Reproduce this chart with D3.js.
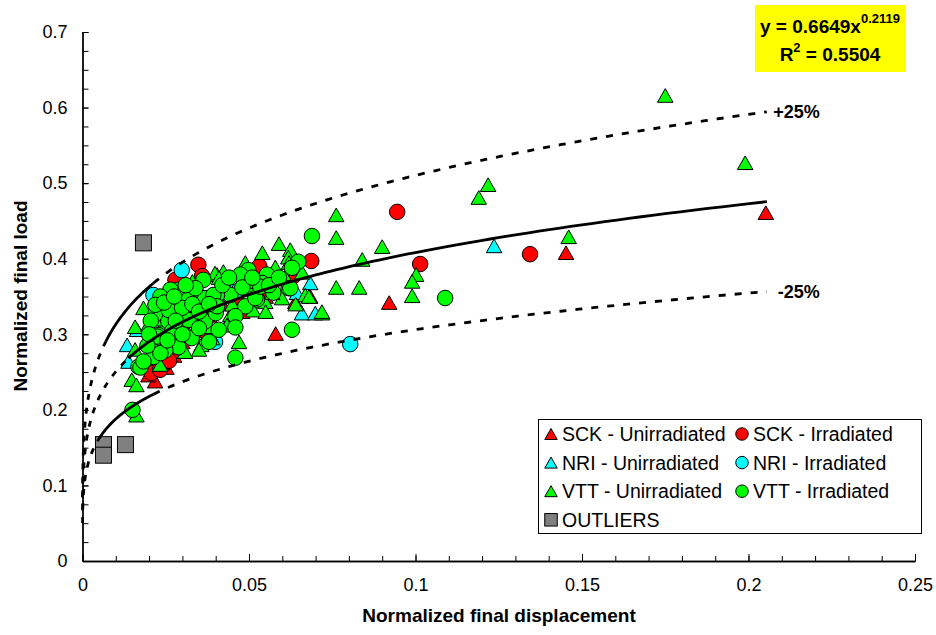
<!DOCTYPE html>
<html>
<head>
<meta charset="utf-8">
<script src="https://cdn.jsdelivr.net/npm/d3@7"></script>
<style>
  body { margin: 0; background: #fff; }
  svg { display: block; font-family: Arial, "Liberation Sans", sans-serif; }
</style>
</head>
<body>
<div id="chart"></div>
<script>
// axis ticks
const xTicks = [0, 0.05, 0.1, 0.15, 0.2, 0.25];
const xTickLabels = ['0', '0.05', '0.1', '0.15', '0.2', '0.25'];
const yTicks = [0, 0.1, 0.2, 0.3, 0.4, 0.5, 0.6, 0.7];
const yTickLabels = ['0', '0.1', '0.2', '0.3', '0.4', '0.5', '0.6', '0.7'];

// power fit y = a * x^b and the +/-25% band
const fitCoef = 0.6649;
const fitExp = 0.2119;
const bandFactors = [1, 1.25, 0.75];
const solidRanges = [[0.0138, 0.2055], [0.007, 0.0213], [0.0047, 0.0213]];
const curveStart = 0.00002;
const curveEnd = 0.2055;

// series (x = normalized final displacement, y = normalized final load)
const seriesNames = ['SCK - Unirradiated', 'SCK - Irradiated', 'NRI - Unirradiated',
  'NRI - Irradiated', 'VTT - Unirradiated', 'VTT - Irradiated', 'OUTLIERS'];

const sckUnirr = [
  [0.0218, 0.238], [0.0198, 0.246], [0.0252, 0.256], [0.0240, 0.262], [0.0275, 0.272],
  [0.0300, 0.290], [0.0350, 0.305], [0.0380, 0.325], [0.0420, 0.340], [0.0440, 0.318],
  [0.0480, 0.330], [0.0520, 0.390], [0.0550, 0.350], [0.0580, 0.301], [0.0620, 0.370],
  [0.0639, 0.343], [0.0684, 0.350], [0.0921, 0.342], [0.1452, 0.408], [0.2052, 0.461]
];
const sckIrr = [
  [0.0348, 0.392], [0.0279, 0.372], [0.0359, 0.377], [0.0531, 0.390], [0.0633, 0.377],
  [0.0687, 0.397], [0.0945, 0.462], [0.1014, 0.393], [0.1344, 0.406], [0.0207, 0.249],
  [0.0233, 0.253], [0.0260, 0.265], [0.0400, 0.330], [0.0460, 0.345]
];
const nriUnirr = [
  [0.0134, 0.286], [0.0138, 0.264], [0.0164, 0.306], [0.0644, 0.355], [0.0659, 0.328],
  [0.0699, 0.328], [0.0684, 0.368], [0.1236, 0.417], [0.0300, 0.330], [0.0450, 0.360]
];
const nriIrr = [
  [0.0298, 0.385], [0.0213, 0.352], [0.0398, 0.290], [0.0804, 0.287], [0.0470, 0.358],
  [0.0570, 0.372]
];
const vttUnirr = [
  [0.175, 0.616], [0.199, 0.527], [0.1218, 0.498], [0.119, 0.481], [0.0762, 0.458],
  [0.0762, 0.428], [0.090, 0.416], [0.146, 0.429], [0.084, 0.399], [0.1002, 0.379],
  [0.099, 0.370], [0.099, 0.351], [0.0762, 0.362], [0.0831, 0.362], [0.072, 0.328],
  [0.059, 0.420], [0.054, 0.408], [0.0624, 0.412], [0.0618, 0.402], [0.0489, 0.395],
  [0.0579, 0.389], [0.0609, 0.376], [0.0599, 0.348], [0.0669, 0.352], [0.0719, 0.330],
  [0.0513, 0.332], [0.0549, 0.343], [0.0423, 0.383], [0.0404, 0.379], [0.0444, 0.326],
  [0.0434, 0.312], [0.0162, 0.193], [0.0158, 0.310], [0.0148, 0.240], [0.0162, 0.233],
  [0.0158, 0.280], [0.0208, 0.289], [0.0233, 0.260], [0.0198, 0.313], [0.0183, 0.335],
  [0.0308, 0.277], [0.0357, 0.286], [0.0398, 0.381], [0.026, 0.345], [0.028, 0.360],
  [0.033, 0.370], [0.036, 0.350], [0.024, 0.310], [0.032, 0.300], [0.038, 0.310],
  [0.045, 0.340], [0.050, 0.360], [0.047, 0.290], [0.041, 0.375], [0.055, 0.330],
  [0.064, 0.340], [0.020, 0.270], [0.022, 0.320], [0.029, 0.320], [0.035, 0.280],
  [0.039, 0.295], [0.043, 0.360], [0.052, 0.370], [0.057, 0.355], [0.062, 0.395],
  [0.066, 0.382], [0.068, 0.350]
];
const vttIrr = [
  [0.0288, 0.359], [0.0338, 0.359], [0.0318, 0.346], [0.0368, 0.348], [0.0263, 0.335],
  [0.0303, 0.330], [0.0218, 0.326], [0.0258, 0.317], [0.0318, 0.319], [0.0368, 0.317],
  [0.0228, 0.299], [0.0278, 0.303], [0.0248, 0.283], [0.0288, 0.283], [0.0328, 0.295],
  [0.0168, 0.257], [0.0213, 0.270], [0.0150, 0.200], [0.0363, 0.372], [0.0689, 0.430],
  [0.0648, 0.396], [0.0629, 0.388], [0.0554, 0.379], [0.0498, 0.385], [0.0474, 0.379],
  [0.0539, 0.368], [0.0619, 0.361], [0.0524, 0.346], [0.0489, 0.337], [0.0444, 0.352],
  [0.0404, 0.352], [0.0400, 0.328], [0.0459, 0.324], [0.0459, 0.309], [0.0409, 0.306],
  [0.0629, 0.306], [0.0459, 0.269], [0.1089, 0.348], [0.0339, 0.361], [0.0393, 0.352],
  [0.0519, 0.348], [0.0249, 0.279], [0.0224, 0.297], [0.0259, 0.332], [0.0299, 0.335],
  [0.0269, 0.304], [0.0174, 0.256], [0.0534, 0.363], [0.0573, 0.355], [0.0624, 0.361],
  [0.0234, 0.275], [0.0183, 0.264], [0.0264, 0.359], [0.0234, 0.350], [0.0219, 0.339],
  [0.0404, 0.337], [0.0205, 0.318], [0.0245, 0.342], [0.0275, 0.350], [0.0310, 0.365],
  [0.0330, 0.340], [0.0350, 0.330], [0.0380, 0.340], [0.0420, 0.365], [0.0440, 0.375],
  [0.0480, 0.362], [0.0510, 0.375], [0.0560, 0.365], [0.0590, 0.375], [0.0280, 0.318],
  [0.0300, 0.300], [0.0350, 0.308], [0.0380, 0.290], [0.0255, 0.292], [0.0195, 0.285],
  [0.0200, 0.300]
];
const outliers = [[0.0183, 0.421], [0.0063, 0.154], [0.0129, 0.154], [0.0063, 0.140]];

const seriesData = [sckUnirr, sckIrr, nriUnirr, nriIrr, vttUnirr, vttIrr, outliers];

// marker style per series
const seriesStyle = [
  { fill: '#ff0000', shape: 'tri' },
  { fill: '#ff0000', shape: 'circle' },
  { fill: '#00ffff', shape: 'tri' },
  { fill: '#00ffff', shape: 'circle' },
  { fill: '#00ff00', shape: 'tri' },
  { fill: '#00ff00', shape: 'circle' },
  { fill: '#808080', shape: 'square' }
];

const W = 936, H = 635;
const svg = d3.select('#chart').append('svg')
  .attr('width', W).attr('height', H);

const x = d3.scaleLinear().domain([0, 0.25]).range([82.5, 915]);
const y = d3.scaleLinear().domain([0, 0.7]).range([561, 32]);

// Axes
svg.append('g').attr('transform', 'translate(82.5,0)')
  .call(d3.axisLeft(y).tickValues(yTicks).tickFormat((d, i) => yTickLabels[i])
    .tickSizeInner(-6).tickSizeOuter(0).tickPadding(15));
svg.append('g').attr('transform', 'translate(82.5,0)')
  .call(d3.axisLeft(y).tickValues(d3.range(0, 29).map(i => i * 0.025)).tickFormat('')
    .tickSizeInner(-6).tickSizeOuter(0));

svg.append('g').attr('transform', 'translate(0,561)')
  .call(d3.axisBottom(x).tickValues(xTicks).tickFormat((d, i) => xTickLabels[i])
    .tickSizeInner(-7).tickSizeOuter(0).tickPadding(17));
svg.append('g').attr('transform', 'translate(0,561)')
  .call(d3.axisBottom(x).tickValues(d3.range(0, 26).map(i => i * 0.01)).tickFormat('')
    .tickSizeInner(-5).tickSizeOuter(0));

svg.selectAll('.domain').attr('stroke', '#000').attr('stroke-width', 1.3);
svg.selectAll('.tick line').attr('stroke', '#000').attr('stroke-width', 1);
svg.selectAll('.tick text').attr('font-size', 18).attr('fill', '#000')
  .attr('font-family', 'Arial, "Liberation Sans", sans-serif');

// Axis titles
svg.append('text')
  .attr('x', 499).attr('y', 622)
  .attr('text-anchor', 'middle')
  .attr('font-size', 19).attr('font-weight', 'bold')
  .text('Normalized final displacement');
svg.append('text')
  .attr('transform', 'translate(27,296) rotate(-90)')
  .attr('text-anchor', 'middle')
  .attr('font-size', 19).attr('font-weight', 'bold')
  .text('Normalized final load');

// Marker drawing
function drawMarker(sel, shape, fill, s) {
  if (shape === 'circle') {
    sel.append('circle').attr('r', s / 2)
      .attr('fill', fill).attr('stroke', '#000').attr('stroke-width', 1);
  } else if (shape === 'tri') {
    const hw = s / 2, h = s * 0.88;
    sel.append('path')
      .attr('d', `M0,${-h / 2}L${hw},${h / 2}L${-hw},${h / 2}Z`)
      .attr('fill', fill).attr('stroke', '#000').attr('stroke-width', 1);
  } else {
    sel.append('rect').attr('x', -s / 2).attr('y', -s / 2)
      .attr('width', s).attr('height', s)
      .attr('fill', fill).attr('stroke', '#000').attr('stroke-width', 1);
  }
}

const marks = svg.append('g');
seriesData.forEach((pts, si) => {
  const st = seriesStyle[si];
  marks.append('g').selectAll('g')
    .data(pts)
    .join('g')
    .attr('transform', d => `translate(${x(d[0])},${y(d[1])})`)
    .each(function() { drawMarker(d3.select(this), st.shape, st.fill, st.shape === 'square' ? 16 : 15.5); });
});

// Fit curve and band
const fit = xv => fitCoef * Math.pow(xv, fitExp);
const line = d3.line().x(d => x(d[0])).y(d => y(d[1]));
function sample(a, b, k) {
  const n = 120;
  return d3.range(n + 1).map(i => {
    const xv = a * Math.pow(b / a, i / n);
    return [xv, k * fit(xv)];
  });
}
const curves = svg.append('g').attr('fill', 'none').attr('stroke', '#000').attr('stroke-width', 2.8);
bandFactors.forEach((k, ci) => {
  const [s0, s1] = solidRanges[ci];
  curves.append('path').attr('d', line(sample(curveStart, s0, k)))
    .attr('stroke-dasharray', '6,8');
  curves.append('path').attr('d', line(sample(s0, s1, k)));
  if (s1 < curveEnd) {
    curves.append('path').attr('d', line(sample(s1, curveEnd, k)))
      .attr('stroke-dasharray', '7,9');
  }
});

// band labels
[['+25%', 1.25], ['-25%', 0.75]].forEach(([lab, k]) => {
  svg.append('text')
    .attr('x', x(curveEnd) + 53).attr('y', y(k * fit(curveEnd)))
    .attr('dy', '0.36em')
    .attr('text-anchor', 'end')
    .attr('font-size', 18).attr('font-weight', 'bold')
    .text(lab);
});

// Equation box
svg.append('rect').attr('x', 755).attr('y', 5).attr('width', 151).attr('height', 67)
  .attr('fill', '#ffff00');
const eq1 = svg.append('text').attr('x', 830).attr('y', 33)
  .attr('text-anchor', 'middle').attr('font-size', 19).attr('font-weight', 'bold');
eq1.append('tspan').text('y = ' + fitCoef + 'x');
eq1.append('tspan').attr('font-size', 13).attr('dy', -10).text(fitExp);
const eq2 = svg.append('text').attr('x', 830).attr('y', 61)
  .attr('text-anchor', 'middle').attr('font-size', 19).attr('font-weight', 'bold');
eq2.append('tspan').text('R');
eq2.append('tspan').attr('font-size', 13).attr('dy', -9).text('2');
eq2.append('tspan').attr('dy', 9).text(' = 0.5504');

// Legend
const legend = svg.append('g');
legend.append('rect').attr('x', 538.5).attr('y', 419.5).attr('width', 383).attr('height', 114)
  .attr('fill', '#fff').attr('stroke', '#000').attr('stroke-width', 1);
seriesNames.forEach((name, i) => {
  const col = i % 2, row = Math.floor(i / 2);
  const lx = col === 0 ? 551 : 742;
  const ly = 434 + row * 28.6;
  const g = legend.append('g').attr('transform', `translate(${lx},${ly})`);
  drawMarker(g, seriesStyle[i].shape, seriesStyle[i].fill, 12.5);
  legend.append('text').attr('x', lx + 11).attr('y', ly).attr('dy', '0.36em')
    .attr('font-size', 19.5).text(name);
});
</script>
</body>
</html>
